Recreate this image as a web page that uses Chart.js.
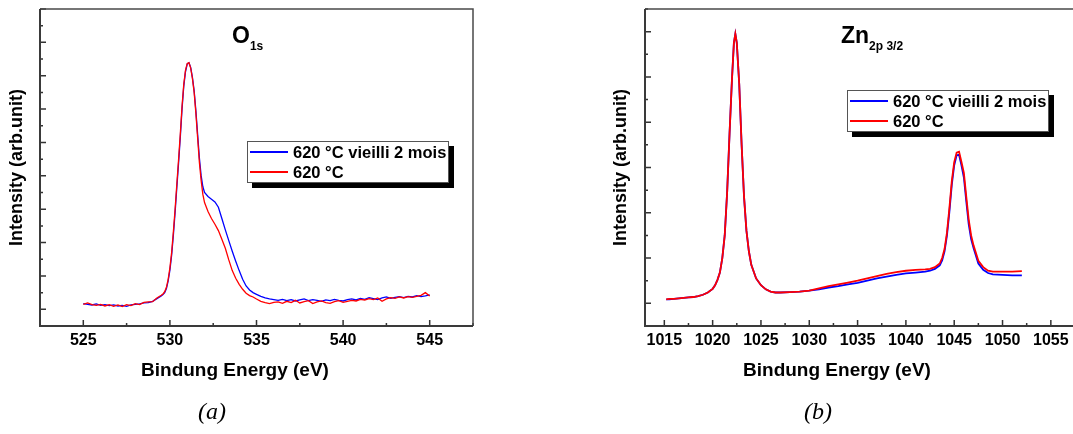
<!DOCTYPE html>
<html>
<head>
<meta charset="utf-8">
<title>XPS O1s et Zn2p 3/2</title>
<script src="https://cdn.jsdelivr.net/npm/chart.js"></script>
<style>
  html, body {margin: 0; padding: 0; width: 1073px; height: 434px; overflow: hidden; background: #fff;}
  body {position: relative; font-family: "Liberation Sans", Arial, sans-serif; color: #000;}
  canvas {position: absolute; top: 0;}
  #chartA {left: 0;}
  #chartB {left: 540px;}
  .heading {position: absolute; top: 24px; font: bold 23px "Liberation Sans", Arial, sans-serif; line-height: 23px; white-space: nowrap;}
  .heading sub {font-size: 12px; vertical-align: -7px; line-height: 0;}
  .xtitle {position: absolute; top: 360px; font: bold 19px "Liberation Sans", Arial, sans-serif; line-height: 19px; white-space: nowrap; transform: translateX(-50%);}
  .caption {position: absolute; top: 399px; font: italic 24px "Liberation Serif", "Times New Roman", serif; line-height: 24px; transform: translateX(-50%);}
  .legend {position: absolute; width: 200px; height: 40px; border: 1px solid #555; background: #fff; box-shadow: 5px 5px 0 #000; padding: 0;}
  .legend .row {display: flex; align-items: center; height: 20px; font: bold 16.5px "Liberation Sans", Arial, sans-serif; white-space: nowrap;}
  .legend .ln {display: inline-block; width: 38px; height: 1.5px; margin: 0 5px 0 2px;}
</style>
</head>
<body>
<canvas id="chartA" width="540" height="434"></canvas>
<canvas id="chartB" width="540" height="434"></canvas>

<div class="heading" style="left:232px;">O<sub>1s</sub></div>
<div class="heading" style="left:841px;">Zn<sub>2p 3/2</sub></div>

<div class="legend" id="legendA" style="left:247px; top:141px;"></div>
<div class="legend" id="legendB" style="left:847px; top:90px;"></div>

<div class="xtitle" style="left:235px;">Bindung Energy (eV)</div>
<div class="xtitle" style="left:837px;">Bindung Energy (eV)</div>

<div class="caption" style="left:212px;">(a)</div>
<div class="caption" style="left:818px;">(b)</div>

<script>
// series names and colours
var seriesLabels = ['620 °C vieilli 2 mois', '620 °C'];
var seriesColors = ['#0000ff', '#ff0000'];

// (a) O 1s  -- energies (eV) and intensities (arb. units)
var energyO = [
  525, 525.25, 525.5, 525.75, 526, 526.25, 526.5, 526.75, 527, 527.25, 527.5, 527.75,
  528, 528.25, 528.5, 528.75, 529, 529.25,
  529.5, 529.6, 529.7, 529.8, 529.9, 530.0, 530.1, 530.2, 530.3, 530.4, 530.5, 530.6,
  530.7, 530.8, 530.9, 531.0, 531.1, 531.2, 531.3, 531.4, 531.5, 531.6, 531.7, 531.8,
  531.9, 532.0, 532.2, 532.4, 532.6, 532.8, 533.0, 533.2, 533.4, 533.6, 533.8, 534.0,
  534.2, 534.4, 534.6, 534.8, 535.0, 535.25, 535.5, 535.75, 536.0,
  536.25, 536.5, 536.75, 537, 537.25, 537.5, 537.75, 538, 538.25, 538.5, 538.75, 539,
  539.25, 539.5, 539.75, 540, 540.25, 540.5, 540.75, 541, 541.25, 541.5, 541.75, 542,
  542.25, 542.5, 542.75, 543, 543.25, 543.5, 543.75, 544, 544.25, 544.5, 544.75, 545
];
var agedO = [
  0.17, 0.15, 0.13, 0.16, 0.12, 0.14, 0.11, 0.13, 0.10, 0.12, 0.09, 0.13,
  0.15, 0.16, 0.19, 0.20, 0.24, 0.32,
  0.40, 0.44, 0.50, 0.62, 0.85, 1.17, 1.62, 2.22, 2.90, 3.65, 4.38, 5.15,
  6.00, 6.68, 7.12, 7.35, 7.39, 7.25, 6.95, 6.55, 5.95, 5.25, 4.55, 4.02,
  3.68, 3.50, 3.38, 3.30, 3.22, 3.06, 2.72, 2.38, 2.06, 1.74, 1.44, 1.16,
  0.90, 0.70, 0.58, 0.50, 0.45, 0.39, 0.34, 0.31, 0.29,
  0.27, 0.30, 0.26, 0.29, 0.25, 0.28, 0.31, 0.26, 0.29, 0.27, 0.24, 0.28,
  0.26, 0.30, 0.27, 0.25, 0.29, 0.31, 0.28, 0.33, 0.30, 0.35, 0.32, 0.29,
  0.34, 0.37, 0.33, 0.36, 0.38, 0.35, 0.39, 0.37, 0.41, 0.38, 0.40, 0.43
];
var freshO = [
  0.15, 0.19, 0.14, 0.12, 0.15, 0.10, 0.14, 0.09, 0.13, 0.08, 0.14, 0.11,
  0.17, 0.14, 0.21, 0.22, 0.23, 0.34,
  0.42, 0.46, 0.53, 0.66, 0.90, 1.24, 1.70, 2.32, 3.00, 3.75, 4.48, 5.25,
  6.08, 6.74, 7.16, 7.37, 7.39, 7.23, 6.92, 6.50, 5.88, 5.15, 4.42, 3.88,
  3.45, 3.20, 2.93, 2.72, 2.55, 2.36, 2.10, 1.83, 1.48, 1.16, 0.93, 0.75,
  0.60, 0.48, 0.41, 0.37, 0.31, 0.24, 0.20, 0.17, 0.21,
  0.22, 0.18, 0.24, 0.20, 0.27, 0.19, 0.23, 0.26, 0.17, 0.22, 0.25, 0.20,
  0.18, 0.23, 0.26, 0.21, 0.24, 0.27, 0.25, 0.30, 0.28, 0.32, 0.29, 0.34,
  0.24, 0.31, 0.35, 0.33, 0.37, 0.34, 0.38, 0.36, 0.39, 0.42, 0.50, 0.40
];

// (b) Zn 2p 3/2
var energyZn = [
  1015.2, 1015.5, 1016, 1016.5, 1017, 1017.5, 1018, 1018.5, 1019, 1019.5, 1020,
  1020.25, 1020.5, 1020.75, 1021, 1021.25, 1021.5, 1021.75, 1022, 1022.2, 1022.35,
  1022.5, 1022.75, 1023, 1023.25, 1023.5, 1023.75, 1024, 1024.5, 1025, 1025.5, 1026,
  1026.5, 1027, 1028, 1029, 1030, 1031, 1032, 1033, 1034, 1035, 1036, 1037, 1038,
  1039, 1040, 1041, 1042, 1042.5, 1043, 1043.5, 1043.75, 1044, 1044.25, 1044.5,
  1044.75, 1045, 1045.25, 1045.5, 1045.75, 1046, 1046.25, 1046.5, 1046.75, 1047,
  1047.5, 1048, 1048.5, 1049, 1050, 1051, 1052
];
var agedZn = [
  0.09, 0.09, 0.10, 0.11, 0.12, 0.13, 0.14, 0.16, 0.19, 0.24, 0.32,
  0.40, 0.52, 0.68, 1.00, 1.50, 2.45, 3.75, 4.95, 5.75, 5.95,
  5.75, 4.85, 3.50, 2.35, 1.60, 1.15, 0.85, 0.55, 0.40, 0.31, 0.26,
  0.24, 0.24, 0.25, 0.26, 0.28, 0.31, 0.35, 0.38, 0.42, 0.45, 0.50, 0.55, 0.59,
  0.63, 0.66, 0.68, 0.70, 0.72, 0.76, 0.84, 0.95, 1.15, 1.50, 2.02,
  2.62, 3.05, 3.27, 3.28, 3.05, 2.78, 2.25, 1.75, 1.42, 1.22,
  0.88, 0.74, 0.67, 0.64, 0.63, 0.62, 0.62
];
var freshZn = [
  0.09, 0.10, 0.10, 0.11, 0.12, 0.13, 0.14, 0.16, 0.19, 0.24, 0.32,
  0.40, 0.52, 0.68, 1.00, 1.50, 2.45, 3.75, 4.95, 5.75, 5.95,
  5.75, 4.85, 3.50, 2.35, 1.60, 1.15, 0.85, 0.55, 0.40, 0.31, 0.26,
  0.24, 0.24, 0.25, 0.26, 0.28, 0.33, 0.38, 0.42, 0.46, 0.50, 0.55, 0.60, 0.65,
  0.69, 0.72, 0.74, 0.75, 0.76, 0.80, 0.88, 1.00, 1.20, 1.56, 2.10,
  2.70, 3.12, 3.33, 3.35, 3.12, 2.88, 2.35, 1.85, 1.50, 1.28,
  0.94, 0.80, 0.72, 0.70, 0.70, 0.70, 0.71
];

function near(v, step) {
  return Math.abs(v / step - Math.round(v / step)) < 1e-6;
}

// Origin style frame with inward ticks
var frameTicks = {
  id: 'frameTicks',
  afterDatasetsDraw: function(chart) {
    var ctx = chart.ctx, a = chart.chartArea;
    var xs = chart.scales.x, ys = chart.scales.y;
    ctx.save();
    ctx.strokeStyle = '#333';
    ctx.lineWidth = 1.5;
    ctx.beginPath();
    xs.ticks.forEach(function(t) {
      if (!near(t.value, 2.5)) return;
      var px = xs.getPixelForValue(t.value);
      var len = near(t.value, 5) ? 6 : 3;
      ctx.moveTo(px, a.bottom);
      ctx.lineTo(px, a.bottom - len);
    });
    ys.ticks.forEach(function(t) {
      if (!near(t.value, 0.5)) return;
      var py = ys.getPixelForValue(t.value);
      var len = near(t.value, 1) ? 6 : 3;
      ctx.moveTo(a.left, py);
      ctx.lineTo(a.left + len, py);
    });
    ctx.stroke();
    // top and right
    ctx.strokeStyle = '#4a4a4a';
    ctx.lineWidth = 1.5;
    ctx.beginPath();
    ctx.moveTo(a.left, a.top);
    ctx.lineTo(a.right, a.top);
    ctx.lineTo(a.right, a.bottom);
    ctx.stroke();
    // left and bottom axes
    ctx.strokeStyle = '#3a3a3a';
    ctx.lineWidth = 2;
    ctx.beginPath();
    ctx.moveTo(a.left, a.top);
    ctx.lineTo(a.left, a.bottom);
    ctx.lineTo(a.right, a.bottom);
    ctx.stroke();
    ctx.restore();
  }
};

function points(xs, ys) {
  return xs.map(function(x, i) { return {x: x, y: ys[i]}; });
}

function makeChart(id, energy, aged, fresh, o) {
  var ctx = document.getElementById(id).getContext('2d');
  return new Chart(ctx, {
    type: 'line',
    data: {
      datasets: [
        {label: seriesLabels[0], data: points(energy, aged), borderColor: seriesColors[0],
         borderWidth: o.lw, pointRadius: 0, fill: false, order: 1},
        {label: seriesLabels[1], data: points(energy, fresh), borderColor: seriesColors[1],
         borderWidth: o.lw, pointRadius: 0, fill: false, order: 0}
      ]
    },
    options: {
      responsive: false,
      animation: false,
      events: [],
      layout: {padding: {left: o.padL, top: 9, right: o.padR, bottom: 0}},
      plugins: {legend: {display: false}, tooltip: {enabled: false}},
      scales: {
        x: {
          type: 'linear', min: o.xmin, max: o.xmax,
          grid: {display: false, drawTicks: false},
          border: {display: false},
          ticks: {
            stepSize: 2.5, includeBounds: false, autoSkip: false, maxRotation: 0, padding: 5,
            color: '#000',
            font: {family: '"Liberation Sans", Arial, sans-serif', size: 16, weight: 'bold'},
            callback: function(v) { return near(v, 5) ? String(Math.round(v)) : ''; }
          },
          afterFit: function(s) { s.height = 108; }
        },
        y: {
          type: 'linear', min: -0.5, max: o.ymax,
          grid: {display: false, drawTicks: false},
          border: {display: false},
          ticks: {display: false, stepSize: 0.5},
          title: {
            display: true, text: 'Intensity (arb.unit)', color: '#000',
            font: {family: '"Liberation Sans", Arial, sans-serif', size: 18, weight: 'bold'},
            padding: {top: o.tPad, bottom: 0}
          },
          afterFit: function(s) { s.width = o.yw; }
        }
      }
    },
    plugins: [frameTicks]
  });
}

function makeLegend(id) {
  var box = document.getElementById(id);
  seriesLabels.forEach(function(lab, i) {
    var row = document.createElement('div');
    row.className = 'row';
    var ln = document.createElement('span');
    ln.className = 'ln';
    ln.style.background = seriesColors[i];
    row.appendChild(ln);
    row.appendChild(document.createTextNode(lab));
    box.appendChild(row);
  });
}

makeChart('chartA', energyO, agedO, freshO,
  {xmin: 522.5, xmax: 547.5, ymax: 9, padL: 0, padR: 67, yw: 40, tPad: 6.7, lw: 1.3});
makeChart('chartB', energyZn, agedZn, freshZn,
  {xmin: 1013, xmax: 1057.5, ymax: 6.5, padL: 60, padR: 3, yw: 45, tPad: 10.7, lw: 1.8});
makeLegend('legendA');
makeLegend('legendB');
</script>
</body>
</html>
